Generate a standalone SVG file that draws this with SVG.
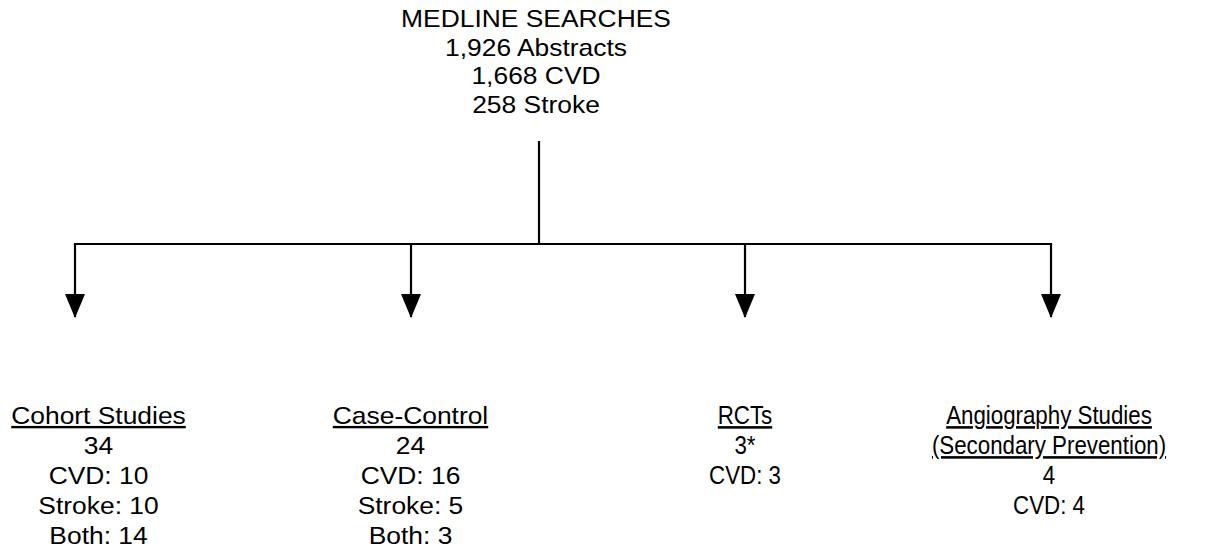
<svg xmlns="http://www.w3.org/2000/svg" width="1231" height="552" viewBox="0 0 1231 552">
<style>
.t { font-family: "Liberation Sans", Arial, Helvetica, sans-serif; font-size: 24px; text-anchor: middle; fill: #000; }
.r { font-size: 25.5px; }
.u { text-decoration: underline; }
.c { stroke: #000; stroke-width: 2.2; fill: none; }
</style>
<defs>
<marker id="arr" viewBox="0 0 24 20" refX="23" refY="10" markerWidth="24" markerHeight="20" markerUnits="userSpaceOnUse" orient="auto">
<path d="M0,0 L24,10 L0,20 z" fill="#000"/>
</marker>
</defs>
<rect width="1231" height="552" fill="#fff"/>
<g id="connectors">
<path class="c" d="M539 141 V244"/>
<path class="c" d="M73.9 244 H1052.1"/>
<path class="c" d="M75 244 V317" marker-end="url(#arr)"/>
<path class="c" d="M411 244 V317" marker-end="url(#arr)"/>
<path class="c" d="M745 244 V317" marker-end="url(#arr)"/>
<path class="c" d="M1051 244 V317" marker-end="url(#arr)"/>
</g>
<g id="medline" transform="translate(536 0) scale(1.1 1)">
<text class="t" x="0" y="27.5">MEDLINE SEARCHES</text>
<text class="t" x="0" y="56">1,926 Abstracts</text>
<text class="t" x="0" y="84.5">1,668 CVD</text>
<text class="t" x="0" y="113">258 Stroke</text>
</g>
<g id="cohort" transform="translate(98.5 0) scale(1.1 1)">
<text class="t u" x="0" y="424">Cohort Studies</text>
<text class="t" x="0" y="454">34</text>
<text class="t" x="0" y="484">CVD: 10</text>
<text class="t" x="0" y="514.5">Stroke: 10</text>
<text class="t" x="0" y="544">Both: 14</text>
</g>
<g id="casecontrol" transform="translate(410.5 0) scale(1.1 1)">
<text class="t u" x="0" y="424">Case-Control</text>
<text class="t" x="0" y="454">24</text>
<text class="t" x="0" y="484">CVD: 16</text>
<text class="t" x="0" y="514.5">Stroke: 5</text>
<text class="t" x="0" y="544">Both: 3</text>
</g>
<g id="rcts" transform="translate(745 0) scale(0.875 1)">
<text class="t r u" x="0" y="424">RCTs</text>
<text class="t r" x="0" y="454">3*</text>
<text class="t r" x="0" y="484">CVD: 3</text>
</g>
<g id="angiography" transform="translate(1049 0) scale(0.875 1)">
<text class="t r u" x="0" y="424">Angiography Studies</text>
<text class="t r u" x="0" y="454">(Secondary Prevention)</text>
<text class="t r" x="0" y="484">4</text>
<text class="t r" x="0" y="514.5">CVD: 4</text>
</g>
</svg>
